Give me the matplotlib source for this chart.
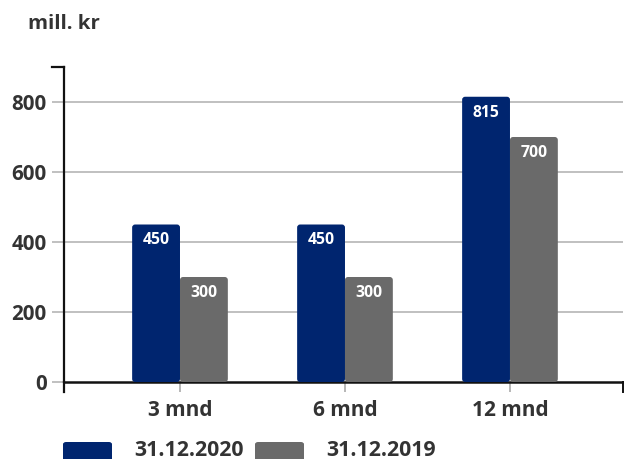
import matplotlib.pyplot as plt
from matplotlib.patches import FancyBboxPatch

# data
categories = ['3 mnd', '6 mnd', '12 mnd']
series_names = ['31.12.2020', '31.12.2019']
values_2020 = [450, 450, 815]
values_2019 = [300, 300, 700]
yticks = [0, 200, 400, 600, 800]

blue = '#00256f'
grey = '#6a6a6a'
txt = '#333333'

plt.rcParams['font.family'] = ['Open Sans', 'DejaVu Sans']
plt.rcParams['font.weight'] = 'bold'

fig = plt.figure(figsize=(6.24, 4.59), dpi=100)
W, H = 624, 459
ax = fig.add_axes([64 / W, 77 / H, (623 - 64) / W, (382 - 67) / H])

x = list(range(len(categories)))
bw = 0.29
ax.set_xlim(-0.703, 2.685)
ax.set_ylim(0, 900)

# bars with slightly rounded corners
px_x = 165.0          # pixels per x unit
px_y = 315.0 / 900    # pixels per y unit
r = 3 / px_x
for vals, off, col in [(values_2020, -bw / 2, blue), (values_2019, bw / 2, grey)]:
    for xi, v in zip(x, vals):
        p = FancyBboxPatch((xi + off - bw / 2, 0), bw, v,
                           boxstyle=f'round,pad=0,rounding_size={r}',
                           mutation_aspect=(px_x / px_y),
                           fc=col, ec='none', zorder=3)
        ax.add_patch(p)
        ax.text(xi + off, v - 16 / px_y, str(v), ha='center', va='center',
                color='white', fontsize=11.3, fontweight='bold', zorder=4)

# grid / spines
ax.set_yticks(yticks)
ax.set_yticklabels([str(t) for t in yticks], fontsize=14.8, color=txt)
for t in yticks[1:]:
    ax.axhline(t, color='#c0c0c0', lw=1.4, zorder=1)
ax.tick_params(axis='y', length=8.5, width=1.4, color='#c0c0c0', pad=4)
ax.yaxis.get_major_ticks()[0].tick1line.set_color('#222222')
ax.set_xticks(x)
ax.set_xticklabels(categories, fontsize=15, color=txt)
ax.tick_params(axis='x', length=7, width=1.2, color='#aaaaaa', pad=6)
for s in ['top', 'right']:
    ax.spines[s].set_visible(False)
ax.spines['left'].set_color('#111111')
ax.spines['left'].set_linewidth(1.6)
ax.spines['bottom'].set_color('#111111')
ax.spines['bottom'].set_linewidth(1.8)
# small end ticks
ax.plot([0, -12 / 559], [1, 1], color='#111111', lw=1.6, transform=ax.transAxes, clip_on=False)
ax.plot([0, 0], [0, -10 / 315], color='#111111', lw=1.6, transform=ax.transAxes, clip_on=False)
ax.plot([1, 1], [0, -10 / 315], color='#111111', lw=1.4, transform=ax.transAxes, clip_on=False)

fig.text(28 / W, 1 - 24 / H, 'mill. kr', ha='left', va='center',
         fontsize=14.7, fontweight='bold', color=txt)

# legend
leg = [(63, blue, 134, series_names[0]), (255, grey, 326, series_names[1])]
for px0, col, tx, name in leg:
    fig.patches.append(FancyBboxPatch((px0 / W, 1 - 462 / H), 49 / W, 20 / H,
                                      boxstyle='round,pad=0,rounding_size=0.005',
                                      transform=fig.transFigure, fc=col, ec='none'))
    fig.text(tx / W, 1 - 450 / H, name, ha='left', va='center',
             fontsize=15.3, fontweight='bold', color=txt)

fig.savefig('out.png', dpi=100)
